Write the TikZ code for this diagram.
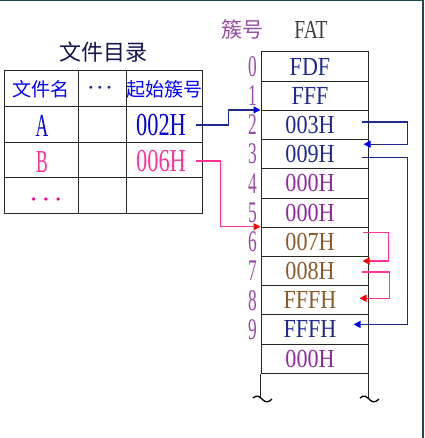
\documentclass[tikz,border=0pt]{standalone}
\usepackage{fontspec}
\usepackage{graphicx}
\usepackage{xcolor}
\setmainfont{Liberation Serif}
\newfontfamily\cjk{Noto Sans CJK SC}
\usetikzlibrary{arrows.meta}
\definecolor{fatblue}{HTML}{1E2A8E}
\definecolor{fatpurple}{HTML}{8E2A9E}
\definecolor{fatbrown}{HTML}{8B5A2B}
\definecolor{numpurple}{HTML}{9A4AA8}
\definecolor{linkpink}{HTML}{FF3399}
\definecolor{titlecol}{HTML}{141450}
\definecolor{framecol}{HTML}{1E4A50}
\newcommand{\tall}[2][0.62]{\scalebox{#1}[1]{#2}}
\newcommand{\threedots}[1]{$\bullet$\hspace{#1}$\bullet$\hspace{#1}$\bullet$}

\begin{document}
\begin{tikzpicture}[x=1pt,y=-1pt,
  fatcell/.style={draw=black!85,line width=1pt,minimum width=107pt,minimum height=29.2pt,inner sep=0pt},
  fattext/.style={font=\fontsize{26}{26}\selectfont},
  numtext/.style={text=numpurple,font=\fontsize{30}{30}\selectfont},
  dirtext/.style={font=\fontsize{32}{32}\selectfont},
  bluelink/.style={draw=fatblue,line width=1.3pt,-{Triangle[length=7pt,width=7pt,color=blue]}},
  pinklink/.style={draw=linkpink,line width=1.3pt,-{Triangle[length=7pt,width=7pt,color=red]}}]
\useasboundingbox (0,0) rectangle (424,438);
% frame
\draw[framecol,line width=2pt] (0,0) -- (424,0);
\draw[framecol,line width=1.5pt] (423,0) -- (423,438);

% file directory
\node[font=\cjk\fontsize{22}{22}\selectfont,text=titlecol] (title) at (103,52) {文件目录};
\draw[black!85,line width=1pt] (4,71) rectangle (202,213);
\foreach \y in {107,143,178} \draw[black!85,line width=1pt] (4,\y) -- (202,\y);
\foreach \x in {78,126} \draw[black!85,line width=1pt] (\x,71) -- (\x,213);
\node[font=\cjk\fontsize{19}{19}\selectfont,text=blue] (h1) at (41,89) {文件名};
\node[font=\fontsize{7}{7}\selectfont,text=fatblue] (h2) at (100,88) {\threedots{5pt}};
\node[font=\cjk\fontsize{19}{19}\selectfont,text=blue,inner sep=0pt] (h3) at (164,89) {起始簇号};
\node[dirtext,text=blue!85!black] (fa) at (42,126) {\tall[0.55]{A}};
\node[dirtext,text=linkpink] (fb) at (42,162) {\tall[0.55]{B}};
\node[font=\fontsize{8}{8}\selectfont,text=magenta] (fc) at (46,200) {\threedots{8pt}};
\node[dirtext,text=blue!85!black] (s1) at (161,125) {\tall[0.7]{002H}};
\node[dirtext,text=linkpink] (s2) at (161,161) {\tall[0.7]{006H}};

% FAT
\node[font=\cjk\fontsize{21}{21}\selectfont,text=numpurple] (cl) at (242,30) {簇号};
\node[fattext,text=black!75] (fat) at (311,30) {\tall[0.75]{FAT}};
\foreach \i/\v/\c in {0/FDF/fatblue,1/FFF/fatblue,2/003H/fatblue,3/009H/fatblue,4/000H/fatpurple,5/000H/fatpurple,6/007H/fatbrown,7/008H/fatbrown,8/FFFH/fatbrown,9/FFFH/fatblue,10/000H/fatpurple}
  \node[fatcell,fattext,text=\c] (f\i) at (314.5,66.6+29.2*\i) {\tall[0.85]{\v}\hspace*{9pt}};
\foreach \i in {0,...,9}
  \node[numtext] (n\i) at (252.5,66.6+29.2*\i) {\tall[0.58]{\i}};
\draw[black!85,line width=1pt] (f10.south west) -- ++(0,24);
\draw[black!85,line width=1pt] (f10.south east) -- ++(0,24);
\foreach \x in {0,107}
  \draw[xshift=\x pt,line width=1.3pt] (253,398) .. controls (257,394) and (260,397) .. (263,400) .. controls (266,403) and (269,402) .. (272,399);

% links
\draw[bluelink] ([xshift=7pt]s1.east) -- ++(32,0) |- (f2.north west);
\draw[pinklink] ([xshift=7pt]s2.east) -- ++(24,0) |- (f6.north west);
\draw[bluelink] ([xshift=-7pt,yshift=3pt]f2.east) -- ++(46,0) |- ([xshift=-5pt,yshift=10pt]f3.east);
\draw[bluelink] ([xshift=-7pt,yshift=-3pt]f3.east) -- ++(46,0) |- ([xshift=-15pt,yshift=5pt]f9.east);
\draw[pinklink] ([xshift=-6pt,yshift=9pt]f6.east) -- ++(26,0) |- ([xshift=-6pt,yshift=10pt]f7.east);
\draw[pinklink] ([xshift=-7pt,yshift=-1pt]f7.east) -- ++(28,0) |- ([xshift=-9pt,yshift=2pt]f8.east);
\end{tikzpicture}
\end{document}
